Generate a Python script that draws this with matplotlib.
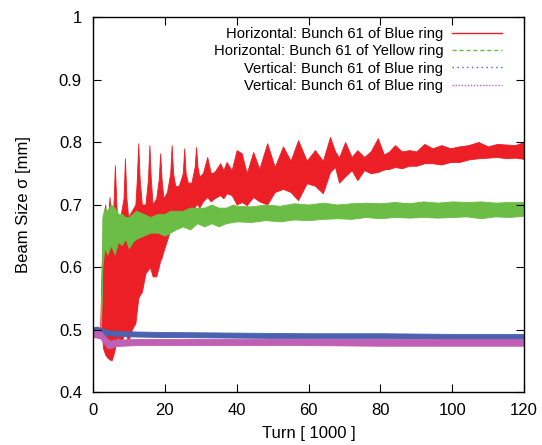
import matplotlib
matplotlib.use("Agg")
import numpy as np
from matplotlib import pyplot as plt
from matplotlib.lines import Line2D

plt.rcParams['font.family'] = ['Liberation Sans', 'DejaVu Sans']

# turn [1000], lower / upper edge of the beam size band [mm]
red_turn = [0, 1.0, 2.0, 2.4, 2.8, 3.4, 4.0, 4.6, 5.2, 5.7, 6.1, 6.5, 6.8, 7.6,
            8.5, 8.9, 9.3, 9.8, 10.8, 11.8, 12.2, 12.6, 13.0, 13.6, 14.6, 15.3,
            15.7, 16.1, 16.6, 17.6, 18.3, 18.7, 19.1, 19.6, 20.6, 21.5, 21.9,
            22.3, 22.9, 23.9, 25.0, 25.4, 25.8, 26.4, 27.4, 28.3, 28.7, 29.1,
            29.6, 30.6, 31.8, 32.8, 33.8, 35.4, 36.3, 37.2, 38.6, 40.0, 41.4,
            42.8, 44.6, 46.3, 48.5, 50.6, 52.9, 55.0, 57.1, 59.5, 61.8, 64.0,
            66.0, 67.4, 68.5, 70.2, 72.0, 73.6, 75.5, 77.3, 79.3, 81.0, 82.5,
            84.1, 86.0, 88.0, 90.0, 92.3, 94.5, 97.0, 99.5, 102.0, 104.5, 107.3,
            110.0, 112.5, 115.0, 117.5, 120.0]
red_hi = [0.500, 0.505, 0.502, 0.60, 0.66, 0.70, 0.66, 0.712, 0.66, 0.70,
          0.763, 0.70, 0.67, 0.68, 0.71, 0.774, 0.71, 0.68, 0.69, 0.70, 0.74,
          0.798, 0.74, 0.70, 0.70, 0.74, 0.795, 0.74, 0.70, 0.71, 0.74, 0.782,
          0.74, 0.71, 0.72, 0.75, 0.795, 0.75, 0.73, 0.73, 0.75, 0.790, 0.75,
          0.735, 0.735, 0.76, 0.792, 0.76, 0.745, 0.75, 0.776, 0.75, 0.752,
          0.766, 0.755, 0.768, 0.755, 0.787, 0.782, 0.75, 0.784, 0.757, 0.798,
          0.76, 0.793, 0.77, 0.803, 0.77, 0.787, 0.77, 0.808, 0.785, 0.775,
          0.800, 0.776, 0.787, 0.776, 0.785, 0.806, 0.78, 0.785, 0.795, 0.785,
          0.787, 0.785, 0.797, 0.79, 0.795, 0.79, 0.793, 0.795, 0.80, 0.793,
          0.797, 0.796, 0.795, 0.80]
red_lo = [0.488, 0.490, 0.486, 0.50, 0.47, 0.46, 0.455, 0.452, 0.451, 0.46,
          0.47, 0.48, 0.49, 0.475, 0.49, 0.50, 0.49, 0.48, 0.50, 0.51, 0.53,
          0.55, 0.555, 0.56, 0.59, 0.595, 0.60, 0.595, 0.585, 0.585, 0.60,
          0.61, 0.615, 0.625, 0.643, 0.66, 0.67, 0.68, 0.686, 0.675, 0.685,
          0.69, 0.69, 0.69, 0.685, 0.695, 0.70, 0.70, 0.695, 0.705, 0.712,
          0.705, 0.71, 0.715, 0.71, 0.718, 0.715, 0.70, 0.704, 0.699, 0.712,
          0.705, 0.70, 0.72, 0.725, 0.72, 0.707, 0.734, 0.73, 0.718, 0.752,
          0.76, 0.735, 0.745, 0.755, 0.739, 0.755, 0.75, 0.752, 0.756, 0.757,
          0.76, 0.758, 0.762, 0.762, 0.766, 0.766, 0.764, 0.768, 0.768, 0.772,
          0.774, 0.775, 0.776, 0.774, 0.775, 0.773]

green_turn = [0, 2.2, 2.6, 3.2, 4.0, 5.0, 6.0, 7.0, 8.0, 9.0, 10.0, 11.0, 12.0,
              14.0, 16.0, 18.0, 20.0, 21.5, 23.0, 25.0, 27.0, 29.0, 31.0, 33.0,
              35.0, 37.0, 39.0, 40, 44, 48, 52, 56, 60, 64, 68, 72, 76, 80, 84,
              88, 92, 96, 100, 104, 108, 112, 116, 120]
green_lo = [0.488, 0.49, 0.60, 0.63, 0.62, 0.635, 0.62, 0.64, 0.635, 0.645,
            0.63, 0.64, 0.645, 0.65, 0.655, 0.655, 0.65, 0.655, 0.66, 0.665,
            0.66, 0.67, 0.665, 0.67, 0.665, 0.67, 0.672, 0.673, 0.672, 0.675,
            0.673, 0.676, 0.675, 0.677, 0.678, 0.677, 0.680, 0.678, 0.680,
            0.679, 0.680, 0.679, 0.680, 0.681, 0.678, 0.681, 0.680, 0.682]
green_hi = [0.505, 0.50, 0.68, 0.695, 0.69, 0.70, 0.695, 0.685, 0.685, 0.68,
            0.68, 0.685, 0.69, 0.685, 0.68, 0.685, 0.685, 0.69, 0.69, 0.69,
            0.695, 0.695, 0.695, 0.70, 0.695, 0.695, 0.70, 0.698, 0.697, 0.700,
            0.698, 0.702, 0.700, 0.703, 0.700, 0.702, 0.703, 0.702, 0.704,
            0.702, 0.705, 0.703, 0.705, 0.704, 0.705, 0.703, 0.704, 0.704]

blue_turn = [0, 2, 4, 6, 10, 20, 40, 60, 80, 100, 120]
blue_lo = [0.494, 0.493, 0.491, 0.490, 0.489, 0.488, 0.487, 0.486, 0.486, 0.485, 0.485]
blue_hi = [0.504, 0.503, 0.499, 0.498, 0.497, 0.496, 0.495, 0.494, 0.494, 0.493, 0.493]

pink_turn = [0, 2, 3, 4, 5, 6, 8, 12, 20, 40, 60, 80, 100, 120]
pink_lo = [0.488, 0.486, 0.478, 0.470, 0.470, 0.473, 0.474, 0.475, 0.475, 0.475,
           0.475, 0.474, 0.474, 0.474]
pink_hi = [0.500, 0.498, 0.492, 0.485, 0.482, 0.484, 0.484, 0.485, 0.485, 0.485,
           0.485, 0.485, 0.485, 0.485]

labels = ["Horizontal: Bunch 61 of Blue ring",
          "Horizontal: Bunch 61 of Yellow ring",
          "Vertical: Bunch 61 of Blue ring",
          "Vertical: Bunch 61 of Blue ring"]
colors = ['#ec1f26', '#6cbd45', '#4a62b0', '#c060b5']
styles = ['-', (0, (3, 2)), (0, (1, 2.5)), (0, (1, 1.2))]

fig = plt.figure(figsize=(5.42, 4.45), dpi=100)
ax = fig.add_axes([93/542, 1 - 392/445, 431/542, 375/445])

bands = [(red_turn, red_lo, red_hi), (green_turn, green_lo, green_hi),
         (blue_turn, blue_lo, blue_hi), (pink_turn, pink_lo, pink_hi)]
for (t, lo, hi), c in zip(bands, colors):
    ax.fill_between(t, lo, hi, color=c, lw=0.6, edgecolor=c)

ax.set_xlim(0, 120)
ax.set_ylim(0.4, 1.0)
ax.set_xticks(np.arange(0, 121, 20))
ax.set_yticks(np.arange(0.4, 1.01, 0.1))
ax.set_yticklabels(["0.4", "0.5", "0.6", "0.7", "0.8", "0.9", "1"])
ax.tick_params(direction='in', top=True, right=True, length=6, width=0.8,
               labelsize=12, pad=8)
for s in ax.spines.values():
    s.set_linewidth(1.0)
ax.set_xlabel("Turn [ 1000 ]", fontsize=12, labelpad=6)
ax.set_ylabel("Beam Size σ [mm]", fontsize=12, labelpad=20)

handles = [Line2D([], [], color=c, ls=s, lw=1.0) for c, s in zip(colors, styles)]
ax.legend(handles, labels, loc='upper right', bbox_to_anchor=(0.949, 0.973),
          frameon=False, markerfirst=False, fontsize=10.6, borderpad=0,
          borderaxespad=0, handlelength=3.4, handletextpad=0.6,
          labelspacing=0.22)

fig.savefig("out.png", dpi=100)
